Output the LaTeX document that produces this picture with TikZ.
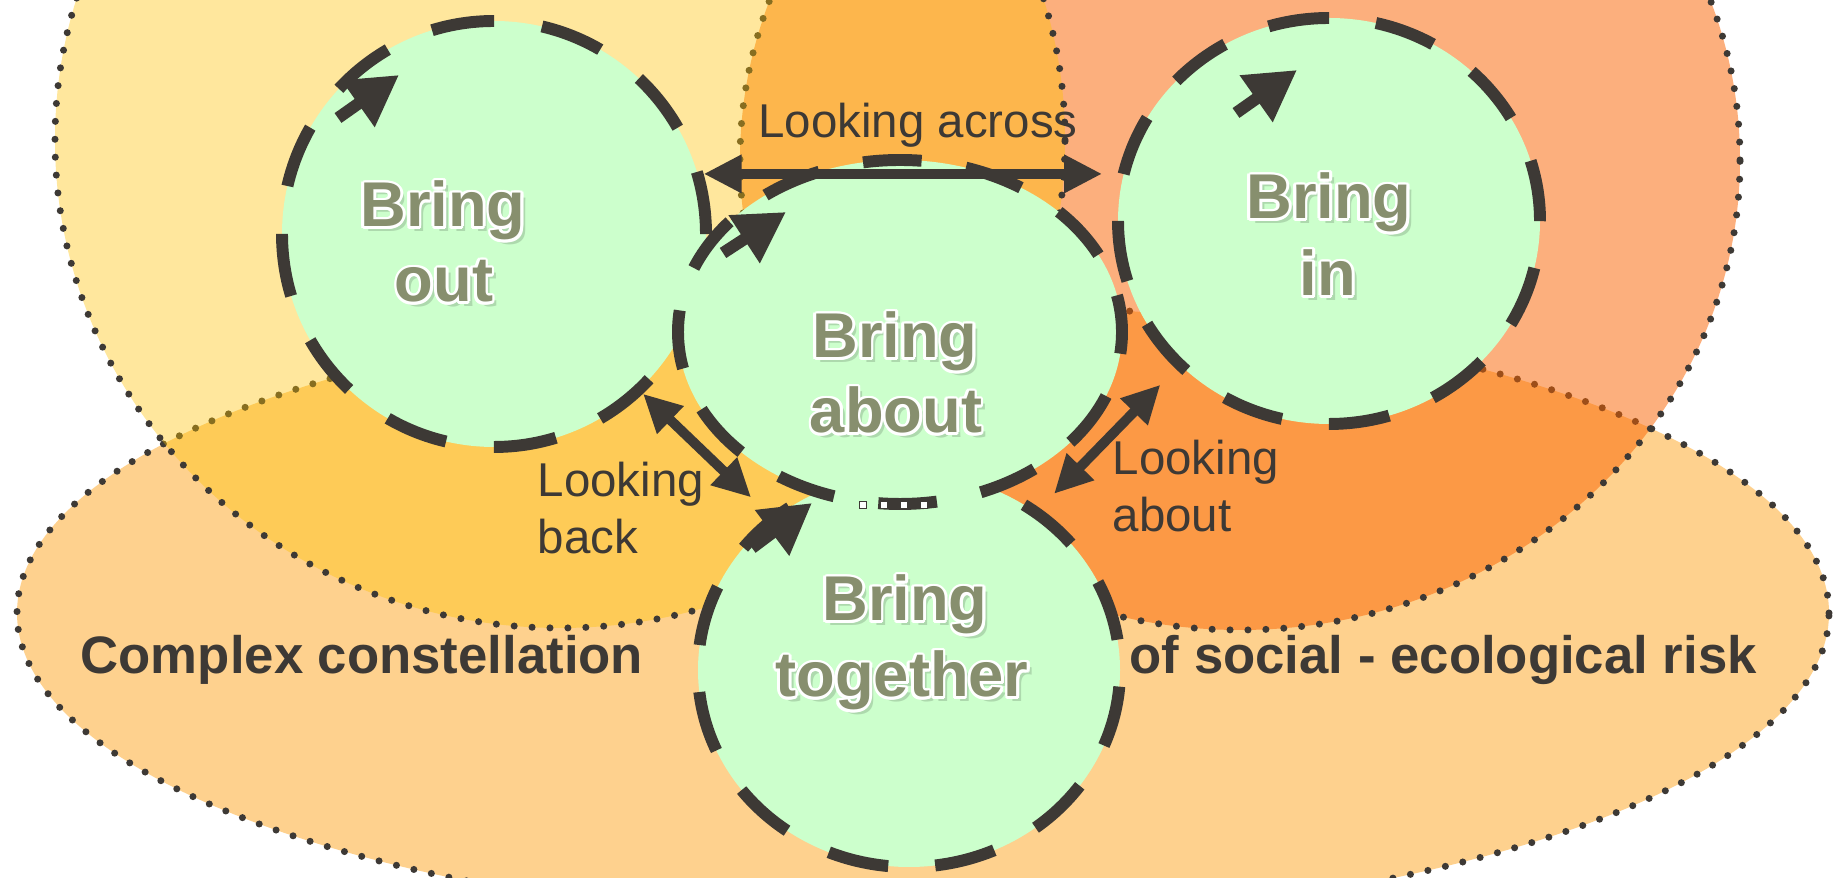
\documentclass[tikz,border=0pt]{standalone}
\usepackage{fontspec}
\setmainfont{Liberation Sans}
\usetikzlibrary{arrows.meta,calc,positioning,shapes.geometric}

\definecolor{ink}{HTML}{3D3935}
\definecolor{leaf}{HTML}{CCFFCC}
\definecolor{sage}{HTML}{878F6E}
\definecolor{sand}{HTML}{FED18E}
\definecolor{tangerine}{RGB}{251,100,0}
\definecolor{amber}{RGB}{255,195,0}

% word inside a ring: soft shadow, white halo, then the word itself
\newcommand{\ringword}[3]{%
  \node[ringtext, text=black, opacity=0.15, xshift=1.3pt, yshift=-1.3pt] at (#2) {#3};
  \foreach \a in {0,30,...,330}
    \node[ringtext, text=white, shift={(\a:0.8pt)}] at (#2) {#3};
  \node[ringtext] (#1) at (#2) {#3};}

\begin{document}
\begin{tikzpicture}
\tikzstyle{rim}=[draw=ink, line width=2pt, line cap=round, dash pattern=on 0pt off 5.1pt]
\tikzstyle{zone}=[ellipse, fill=leaf, inner sep=0pt, outer sep=0.06cm]
\tikzstyle{ring}=[draw=ink, line width=3.4pt]
\tikzstyle{ringend}=[draw=ink, line width=3.4pt, -{Triangle[length=0.5cm,width=0.54cm]}]
\tikzstyle{look}=[draw=ink, line width=2.8pt, {Triangle[length=0.38cm,width=0.36cm]}-{Triangle[length=0.38cm,width=0.36cm]}]
\tikzstyle{looktext}=[text=ink, font=\fontsize{13.5}{16}\selectfont, anchor=base west, inner sep=0pt]
\tikzstyle{risktext}=[text=ink, font=\fontsize{15}{18}\selectfont\bfseries, anchor=base west, inner sep=0pt]
\tikzstyle{ringtext}=[text=sage, font=\fontsize{18}{22}\selectfont\bfseries, anchor=base, inner sep=0pt]

\useasboundingbox (0,0) rectangle (18.39,8.78);
\fill[white] (0,0) rectangle (18.39,8.78);

% the three risk fields
\begin{scope}
\clip (0,0) rectangle (18.39,8.78);
\fill[sand] (9.23,2.65) ellipse[x radius=9.06, y radius=3.10];
\draw[rim] (9.23,2.65) ellipse[x radius=9.06, y radius=3.10];
\fill[tangerine, opacity=0.51] (12.40,7.18) ellipse[x radius=5.00, y radius=4.70];
\draw[rim] (12.40,7.18) ellipse[x radius=5.00, y radius=4.70];
\fill[amber, opacity=0.385] (5.60,7.38) ellipse[x radius=5.05, y radius=4.88];
\draw[rim] (5.60,7.38) ellipse[x radius=5.05, y radius=4.88];
\end{scope}

% bring together (its top is hidden under bring about)
\node[zone, minimum width=4.22cm, minimum height=3.94cm] (bringtog) at (9.09,2.08) {};
\draw[ring, dash pattern=on 17.4pt off 13.4pt] (bringtog.center) ++(57:2.11 and 1.97) arc[start angle=57, end angle=-239, x radius=2.11, y radius=1.97];
\draw[ringend] ($(bringtog.center)+(-1.57,1.22)$) -- ($(bringtog.center)+(-0.97,1.67)$);

% bring out
\node[zone, minimum width=4.24cm, minimum height=4.26cm] (bringout) at (4.94,6.44) {};
\draw[ring, dash pattern=on 17.9pt off 13.76pt] (bringout.center) ellipse[x radius=2.12, y radius=2.13];
\draw[ringend] ($(bringout.center)+(-1.56,1.16)$) -- ($(bringout.center)+(-0.95,1.59)$);

% bring about
\node[zone, minimum width=4.44cm, minimum height=3.44cm] (bringabout) at (9.00,5.46) {};
\draw[ring, dash pattern=on 16.7pt off 12.766pt, dash phase=6.14pt] (bringabout.center) ellipse[x radius=2.22, y radius=1.72];
\draw[ringend] ($(bringabout.center)+(-1.77,0.79)$) -- ($(bringabout.center)+(-1.14,1.20)$);
\foreach \x in {8.63,8.84,9.04,9.24}
  \filldraw[fill=white, draw=ink, line width=0.5pt] (\x-0.035,3.695) rectangle ++(0.07,0.07);

% bring in
\node[zone, minimum width=4.22cm, minimum height=4.06cm] (bringin) at (13.29,6.57) {};
\draw[ring, dash pattern=on 17.4pt off 13.44pt] (bringin.center) ellipse[x radius=2.11, y radius=2.03];
\draw[ringend] ($(bringin.center)+(-0.93,1.08)$) -- ($(bringin.center)+(-0.32,1.51)$);

% ring words
\ringword{outA}{4.43,6.51}{Bring}
\ringword{outB}{4.44,5.76}{out}
\ringword{aboutA}{8.95,5.20}{Bring}
\ringword{aboutB}{8.96,4.45}{about}
\ringword{inA}{13.29,6.59}{Bring}
\ringword{inB}{13.28,5.82}{in}
\ringword{togA}{9.05,2.57}{Bring}
\ringword{togB}{9.02,1.81}{together}

% looking arrows
\draw[look, shorten >=0.15cm] (bringout.16) -- (bringout.16 -| bringin.168);
\foreach \i/\j/\s/\e in {bringout.-47/bringtog.132/0pt/0.25cm, bringin.-136/bringtog.51/0.22cm/0.2cm}
  {\draw[look, shorten <=\s, shorten >=\e] (\i) -- (\j);}

\node[looktext, anchor=base] (across) at (9.18,7.40) {Looking across};
\node[text=ink, font=\fontsize{9}{9}\selectfont, inner sep=0pt] (tick) at (10.72,6.86) {’};
\node[looktext] (backA) at (5.37,3.81) {Looking};
\node[looktext] (backB) at (5.37,3.24) {back};
\node[looktext] (aboutC) at (11.12,4.03) {Looking};
\node[looktext] (aboutD) at (11.12,3.46) {about};

\node[risktext] (riskL) at (0.80,2.04) {Complex constellation};
\node[risktext] (riskR) at (11.29,2.04) {of social - ecological risk};
\end{tikzpicture}
\end{document}
